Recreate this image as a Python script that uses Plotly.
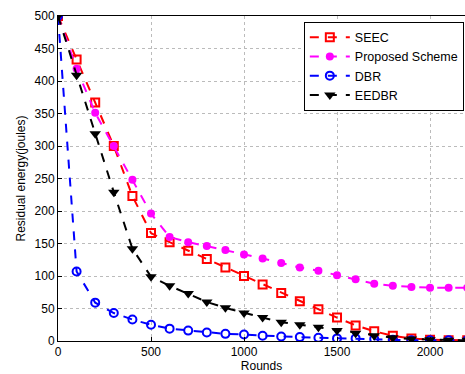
import plotly.graph_objects as go

rounds = list(range(0, 2300, 100))
seec = [500, 433, 367, 300, 223, 166, 152, 139, 126, 113, 100, 87, 74, 61, 49, 36, 24, 15, 8, 4, 2, 1, 1]
proposed = [500, 419, 351, 300, 248, 196, 160, 152, 146, 140, 133, 127, 120, 113, 108, 101, 95, 88, 85, 83, 82, 82, 82]
dbr = [500, 107, 59, 43, 33, 25, 19, 16, 13, 11, 10, 8, 7, 6, 5, 4, 4, 3, 2, 1, 1, 1, 1]
eedbr = [500, 409, 319, 229, 142, 99, 85, 73, 60, 51, 43, 36, 29, 25, 21, 16, 12, 8, 5, 3, 2, 1, 1]

font = "Liberation Sans, Arial, sans-serif"
fig = go.Figure()
series = [
    ("SEEC", seec, "#ff0000", dict(symbol="square-open", size=8, line=dict(width=2, color="#ff0000"))),
    ("Proposed Scheme", proposed, "#ff00ff", dict(symbol="circle", size=8, color="#ff00ff")),
    ("DBR", dbr, "#0000ff", dict(symbol="circle-open", size=8, line=dict(width=2, color="#0000ff"))),
    ("EEDBR", eedbr, "#000000", dict(symbol="triangle-down", size=10, color="#000000")),
]
for name, ys, col, mk in series:
    fig.add_trace(go.Scatter(x=rounds, y=ys, name=name, mode="lines+markers",
                             line=dict(color=col, width=2, dash="dash"), marker=mk))

fig.update_layout(
    width=465, height=374,
    margin=dict(l=58, r=0, t=16, b=33),
    paper_bgcolor="white", plot_bgcolor="white",
    font=dict(family=font, size=12, color="black"),
    showlegend=True,
    legend=dict(x=0.604, y=0.983, xanchor="left", yanchor="top",
                bordercolor="black", borderwidth=1, bgcolor="white",
                font=dict(size=12.5), tracegroupgap=0, itemwidth=40),
    xaxis=dict(range=[0, 2188], tickvals=[0, 500, 1000, 1500, 2000],
               showline=True, linecolor="black", linewidth=1, mirror=True,
               ticks="inside", ticklen=4, tickcolor="black",
               showgrid=True, gridcolor="#bbbbbb", griddash="dot", gridwidth=1,
               zeroline=False,
               title=dict(text="Rounds", font=dict(size=12), standoff=2)),
    yaxis=dict(range=[0, 500], tickvals=list(range(0, 501, 50)),
               showline=True, linecolor="black", linewidth=1, mirror=False,
               ticks="inside", ticklen=4, tickcolor="black",
               showgrid=True, gridcolor="#bbbbbb", griddash="dot", gridwidth=1,
               zeroline=False,
               title=dict(text="Residual energy(joules)", font=dict(size=12), standoff=6)),
)
fig.write_html("out.html")
